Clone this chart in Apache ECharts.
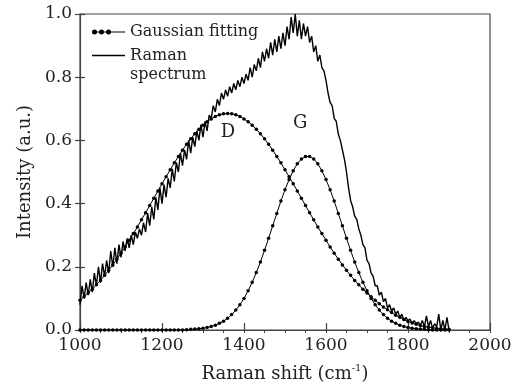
<!DOCTYPE html>
<html><head><meta charset="utf-8">
<script src="https://cdn.jsdelivr.net/npm/echarts@6/dist/echarts.min.js"></script>
<style>html,body{margin:0;padding:0;background:#fff}#c{width:519px;height:389px}</style>
</head><body><div id="c"></div>
<script>
// Raman spectrum sampled every 5 cm-1 from 1000 to 1900
const ramanStart = 1000, ramanStep = 5;
const ramanIntensity = [
0.08,0.14,0.10,0.15,0.11,0.16,0.12,0.18,0.14,0.20,
0.15,0.21,0.17,0.22,0.18,0.25,0.20,0.26,0.21,0.27,
0.23,0.28,0.25,0.29,0.26,0.30,0.27,0.31,0.29,0.32,
0.30,0.34,0.31,0.37,0.33,0.39,0.35,0.42,0.38,0.45,
0.40,0.46,0.42,0.48,0.45,0.51,0.47,0.53,0.50,0.56,
0.52,0.57,0.54,0.60,0.56,0.61,0.58,0.63,0.60,0.65,
0.61,0.66,0.63,0.68,0.67,0.71,0.69,0.73,0.71,0.75,
0.73,0.76,0.74,0.77,0.75,0.78,0.76,0.79,0.77,0.80,
0.78,0.81,0.79,0.83,0.80,0.84,0.82,0.86,0.83,0.88,
0.85,0.89,0.86,0.91,0.87,0.92,0.88,0.93,0.89,0.94,
0.90,0.96,0.92,0.99,0.94,1.00,0.93,0.98,0.92,0.97,
0.93,0.96,0.91,0.93,0.88,0.90,0.85,0.87,0.83,0.82,
0.79,0.75,0.72,0.71,0.67,0.66,0.62,0.60,0.57,0.54,
0.50,0.45,0.41,0.39,0.36,0.35,0.32,0.30,0.27,0.26,
0.22,0.21,0.18,0.17,0.14,0.14,0.11,0.12,0.09,0.10,
0.07,0.08,0.06,0.07,0.05,0.06,0.04,0.05,0.03,0.04,
0.03,0.035,0.02,0.03,0.02,0.025,0.015,0.03,0.01,0.045,
0.01,0.03,0.005,0.02,0.01,0.05,0.0,0.03,0.0,0.04,
0.0
];
// Gaussian fits sampled every 10 cm-1 from 1000 to 1900
const fitStart = 1000, fitStep = 10;
const fitD = [
0.094,0.105,0.117,0.129,0.143,0.157,0.173,0.189,0.206,0.224,
0.243,0.263,0.284,0.305,0.326,0.349,0.371,0.394,0.417,0.440,
0.463,0.485,0.507,0.529,0.549,0.569,0.588,0.605,0.621,0.635,
0.648,0.659,0.668,0.676,0.681,0.684,0.685,0.684,0.681,0.676,
0.668,0.659,0.648,0.635,0.621,0.605,0.588,0.569,0.549,0.529,
0.507,0.485,0.463,0.440,0.417,0.394,0.371,0.349,0.326,0.305,
0.284,0.263,0.243,0.224,0.206,0.189,0.173,0.157,0.143,0.129,
0.117,0.105,0.094,0.083,0.073,0.064,0.055,0.047,0.040,0.033,
0.027,0.022,0.018,0.014,0.011,0.009,0.007,0.005,0.004,0.003,
0.002
];
const fitG = [
0,0,0,0,0,0,0,0,0,0,
0,0,0,0,0,0,0,0,0,0,
0,0,0,0,0,0,0.001,0.002,0.003,0.004,
0.0055,0.008,0.011,0.015,0.021,0.028,0.037,0.049,0.063,0.080,
0.100,0.124,0.151,0.182,0.215,0.252,0.290,0.330,0.369,0.408,
0.444,0.476,0.504,0.526,0.541,0.549,0.549,0.541,0.526,0.504,
0.476,0.444,0.408,0.369,0.330,0.290,0.252,0.215,0.182,0.151,
0.124,0.100,0.080,0.063,0.049,0.037,0.028,0.021,0.015,0.011,
0.008,0.0055,0.004,0.003,0.002,0.001,0,0,0,0,
0
];
const xTickValues = [1000, 1200, 1400, 1600, 1800, 2000];
const yTickValues = [0.0, 0.2, 0.4, 0.6, 0.8, 1.0];
const peakNames = ['D', 'G'];
const peakLabelAt = [[1361, 0.627], [1537, 0.655]];

const FONT = 'DejaVu Serif';
const TXT = '#222';
const ramanData = ramanIntensity.map((v, i) => [ramanStart + i * ramanStep, v]);
const dData = fitD.map((v, i) => [fitStart + i * fitStep, v]);
const gData = fitG.map((v, i) => [fitStart + i * fitStep, v]);

const xMin = xTickValues[0], xMax = xTickValues[xTickValues.length - 1], xInt = xTickValues[1] - xTickValues[0];
const yMin = yTickValues[0], yMax = yTickValues[yTickValues.length - 1], yInt = yTickValues[1] - yTickValues[0];

const dotIcon = 'path://M0,1.9H33V3.1H0Z M0,2.5a2.5,2.5 0 1,1 5,0a2.5,2.5 0 1,1 -5,0Z M7,2.5a2.5,2.5 0 1,1 5,0a2.5,2.5 0 1,1 -5,0Z M14,2.5a2.5,2.5 0 1,1 5,0a2.5,2.5 0 1,1 -5,0Z';
const lineIcon = 'path://M0,0H33V1.3H0Z';

const chart = echarts.init(document.getElementById('c'), null, {renderer: 'canvas'});
const fitSeriesBase = {
  type: 'line', name: 'Gaussian fitting', xAxisIndex: 0, yAxisIndex: 0,
  symbol: 'circle', symbolSize: 3.5, showAllSymbol: true,
  itemStyle: {color: '#000', borderColor: '#000', borderWidth: 0}, lineStyle: {color: '#000', width: 1}, z: 3
};
chart.setOption({
  animation: false,
  backgroundColor: '#fff',
  grid: {left: 80, right: 29, top: 14, bottom: 59, show: true, borderColor: '#444', borderWidth: 1.2, backgroundColor: 'transparent'},
  legend: [
    {data: ['Gaussian fitting'], left: 92, top: 22.5, padding: 0, itemWidth: 33, itemHeight: 5, icon: dotIcon,
     selectedMode: false, itemStyle: {color: '#000', borderWidth: 0},
     textStyle: {fontFamily: FONT, fontSize: 16, lineHeight: 19, color: TXT}},
    {data: ['Raman spectrum'], left: 92, top: 27, padding: 0, itemWidth: 33, itemHeight: 1.3, icon: lineIcon,
     selectedMode: false, itemStyle: {color: '#000', borderWidth: 0}, formatter: () => '\nRaman\nspectrum',
     textStyle: {fontFamily: FONT, fontSize: 16, lineHeight: 19, color: TXT}}
  ],
  xAxis: [
    {type: 'value', min: xMin, max: xMax, interval: xInt, position: 'bottom',
     axisLine: {show: true, lineStyle: {color: '#444', width: 1.2}},
     axisTick: {show: true, inside: true, length: 7, lineStyle: {color: '#444', width: 1.2}},
     splitLine: {show: false},
     axisLabel: {show: true, margin: 7, fontFamily: FONT, fontSize: 17, color: TXT, formatter: v => String(v)},
     name: '{a|Raman shift (cm}{s|-1}{a|)}', nameLocation: 'middle', nameGap: 33,
     nameTextStyle: {rich: {a: {fontFamily: FONT, fontSize: 18, color: TXT, lineHeight: 22},
                            s: {fontFamily: FONT, fontSize: 10, color: TXT, verticalAlign: 'top'}}}},
    {type: 'value', min: xMin, max: xMax, interval: xInt, position: 'bottom',
     axisLine: {show: false}, axisLabel: {show: false}, splitLine: {show: false},
     axisTick: {show: true, inside: false, length: 3, lineStyle: {color: '#444'}},
     minorTick: {show: true, splitNumber: 4, length: 3, lineStyle: {color: '#444'}}, minorSplitLine: {show: false}}
  ],
  yAxis: [
    {type: 'value', min: yMin, max: yMax, interval: yInt, position: 'left',
     axisLine: {show: true, lineStyle: {color: '#444', width: 1.2}},
     axisTick: {show: true, inside: false, length: 5, lineStyle: {color: '#444', width: 1.2}},
     splitLine: {show: false},
     axisLabel: {show: true, margin: 8, fontFamily: FONT, fontSize: 17, color: TXT, formatter: v => v.toFixed(1)},
     name: 'Intensity (a.u.)', nameLocation: 'middle', nameGap: 44,
     nameTextStyle: {fontFamily: FONT, fontSize: 18, color: TXT}},
    {type: 'value', min: yMin, max: yMax, interval: yInt, position: 'left',
     axisLine: {show: false}, axisLabel: {show: false}, splitLine: {show: false},
     axisTick: {show: true, inside: true, length: 5, lineStyle: {color: '#444', width: 1.2}}}
  ],
  series: [
    {type: 'line', name: 'Raman spectrum', data: ramanData, symbol: 'none',
     lineStyle: {color: '#000', width: 1.4}, itemStyle: {color: '#000'}, z: 2},
    Object.assign({}, fitSeriesBase, {data: dData,
      markPoint: {symbol: 'circle', symbolSize: 1, itemStyle: {color: 'transparent'},
        label: {show: true, position: 'inside', fontFamily: FONT, fontSize: 18, color: TXT, formatter: p => p.name},
        data: [{name: peakNames[0], coord: peakLabelAt[0]}]}}),
    Object.assign({}, fitSeriesBase, {data: gData,
      markPoint: {symbol: 'circle', symbolSize: 1, itemStyle: {color: 'transparent'},
        label: {show: true, position: 'inside', fontFamily: FONT, fontSize: 18, color: TXT, formatter: p => p.name},
        data: [{name: peakNames[1], coord: peakLabelAt[1]}]}})
  ]
});
</script></body></html>
